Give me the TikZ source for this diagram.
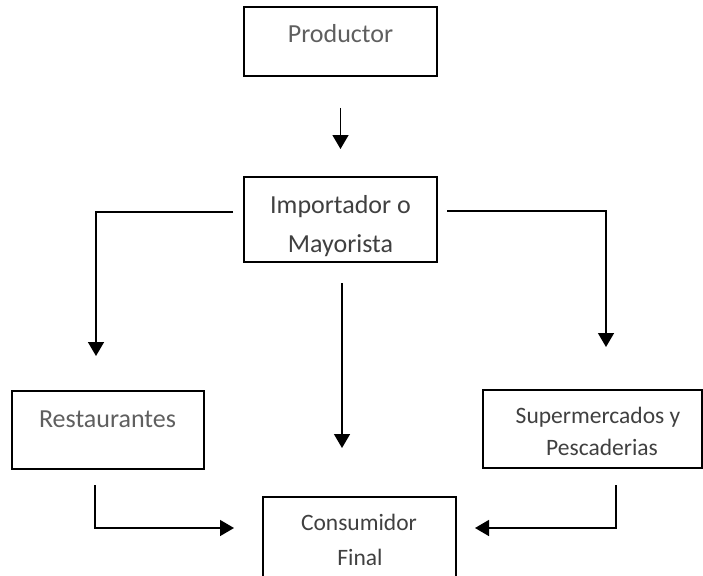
\documentclass[tikz,border=0pt]{standalone}
\usepackage{fontspec}
\setmainfont{Carlito}
\usetikzlibrary{arrows.meta}
\definecolor{txtdark}{HTML}{404040}
\definecolor{txtlight}{HTML}{5F5F5F}
\tikzset{
  boxnode/.style={draw=black, line width=1.8pt, inner sep=0pt, outer sep=0pt, rectangle},
  bigtext/.style={anchor=base, inner sep=0pt, font=\fontsize{26}{30}\selectfont},
  smalltext/.style={anchor=base, inner sep=0pt, font=\fontsize{23.5}{28}\selectfont},
  arr/.style={line width=1.5pt, -{Triangle[length=14pt,width=16pt]}}
}
\begin{document}
\begin{tikzpicture}[x=1pt,y=-1pt]
\clip (0,0) rectangle (703,575);
\fill[white] (0,0) rectangle (703,575);
% boxes
\node[boxnode, minimum width=193pt, minimum height=69pt] (prod) at (340.5,41.5) {};
\node[boxnode, minimum width=193pt, minimum height=85pt] (imp) at (340.5,219.5) {};
\node[boxnode, minimum width=192pt, minimum height=78pt] (rest) at (108,430) {};
\node[boxnode, minimum width=219pt, minimum height=78pt] (sup) at (592.5,429) {};
\node[boxnode, minimum width=193pt, minimum height=103pt] (cons) at (359.5,548.5) {};
% texts
\node[bigtext, text=txtlight] (tprod) at (340.5,43) {Productor};
\begin{scope}
\clip (246,179) rectangle (435,256);
\node[bigtext, text=txtdark] (timp1) at (340.5,213) {Importador o};
\node[bigtext, text=txtdark] (timp2) at (340.5,252) {Mayorista};
\end{scope}
\node[bigtext, text=txtlight] (trest) at (107.5,427) {Restaurantes};
\node[smalltext, text=txtdark] (tsup1) at (598,423) {Supermercados y};
\node[smalltext, text=txtdark] (tsup2) at (602,455) {Pescaderias};
\node[smalltext, text=txtdark] (tcons1) at (359,530) {Consumidor};
\node[smalltext, text=txtdark] (tcons2) at (360,565) {Final};
% connectors
\draw[arr, shorten <=32pt, shorten >=28pt] (prod.south) -- (imp.north);
\draw[arr, shorten >=35pt] ([shift={(-11pt,7.5pt)}]imp.west) -| ([xshift=-12pt]rest.north);
\draw[arr, shorten >=43pt] ([shift={(10pt,8.5pt)}]imp.east) -| ([xshift=13.5pt]sup.north);
\draw[arr, shorten <=21pt, shorten >=49pt] ([xshift=1.5pt]imp.south) -- ([xshift=1.5pt]imp.south |- cons.north);
\draw[arr, shorten >=29pt] ([shift={(-13pt,-16pt)}]rest.south) |- ([yshift=20.5pt]cons.west);
\draw[arr, shorten >=19pt] ([shift={(23.5pt,-17pt)}]sup.south) |- ([yshift=20.5pt]cons.east);
\end{tikzpicture}
\end{document}
